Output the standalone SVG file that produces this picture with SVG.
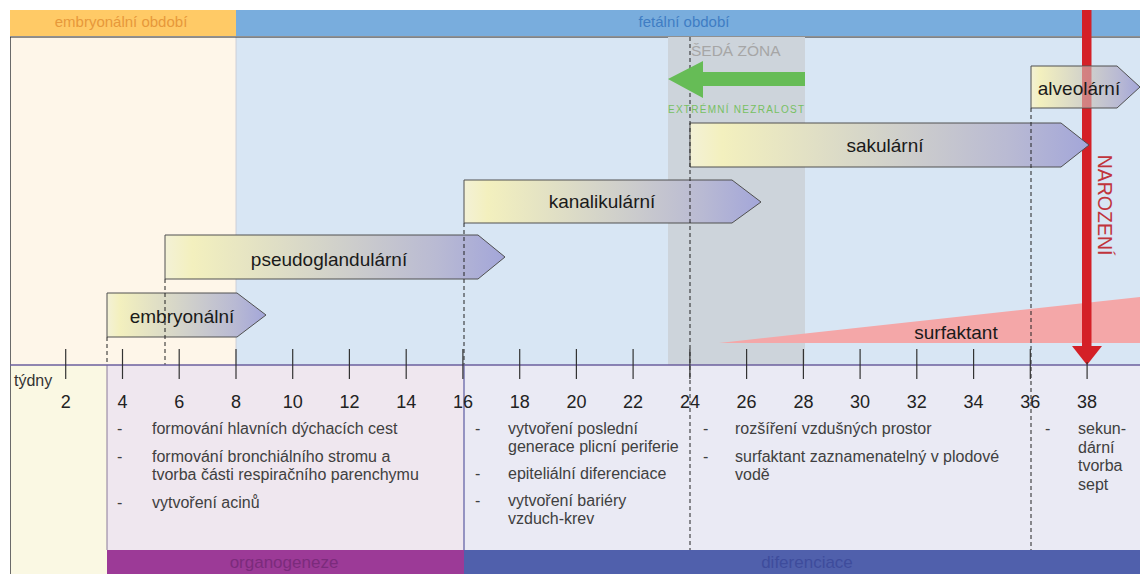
<svg xmlns="http://www.w3.org/2000/svg" width="1140" height="574" viewBox="0 0 1140 574">
<defs>
<linearGradient id="boxgrad" x1="0" y1="0" x2="1" y2="0">
<stop offset="0" stop-color="#F3F1D6"/>
<stop offset="0.08" stop-color="#F3F0BE"/>
<stop offset="0.45" stop-color="#D5D5C9"/>
<stop offset="0.8" stop-color="#B9BAD3"/>
<stop offset="1" stop-color="#A3A6D9"/>
</linearGradient>
<style>
text{font-family:"Liberation Sans",Arial,sans-serif;}
.box{fill:url(#boxgrad);stroke:#505050;stroke-width:1;}
.blabel{font-size:19px;fill:#1a1a1a;text-anchor:middle;}
.guide{stroke:#222;stroke-width:1;stroke-dasharray:4,3;fill:none;}
.tick{stroke:#333;stroke-width:1.2;}
.num{font-size:18px;fill:#222;text-anchor:middle;}
.body{font-size:16px;fill:#404040;}
</style>
</defs>

<!-- backgrounds -->
<g id="background">
<rect x="0" y="0" width="1140" height="574" fill="#ffffff"/>
<rect x="10" y="37" width="226" height="328" fill="#FEF6E9"/>
<rect x="236" y="37" width="904" height="328" fill="#D8E6F4"/>
<rect x="10" y="365" width="97" height="209" fill="#FAF8E3"/>
<rect x="107" y="365" width="357" height="185" fill="#EFE7EF"/>
<rect x="464" y="365" width="676" height="185" fill="#EAEAF4"/>
<line x1="236" y1="37" x2="236" y2="365" stroke="#c8c8d0" stroke-width="0.8"/>
<line x1="10.5" y1="37" x2="10.5" y2="574" stroke="#6a6a6a" stroke-width="1"/>
</g>

<g id="period-embryonal">
<rect x="10" y="10" width="226" height="26" fill="#FFCA66"/>
<text x="121" y="27" font-size="15" fill="#E7983A" text-anchor="middle">embryonální období</text>
</g>
<g id="period-fetal">
<rect x="236" y="10" width="904" height="26" fill="#79ADDD"/>
<text x="684" y="27" font-size="15" fill="#3F7DC4" text-anchor="middle">fetální období</text>
</g>
<line x1="10" y1="37" x2="1140" y2="37" stroke="#222" stroke-width="1.2"/>

<g id="grey-zone">
<rect x="668" y="37" width="137" height="328" fill="#CDD4DB"/>
<text x="691" y="56" font-size="15.5" fill="#A6A6A6">ŠEDÁ ZÓNA</text>
</g>

<g id="surfaktant">
<polygon points="719,343 1140,297 1140,343" fill="#F4A7A8"/>
<text x="956" y="339" class="blabel" fill="#1a1a1a">surfaktant</text>
</g>

<g id="birth-shaft">
<rect x="1082" y="10" width="9.5" height="337" fill="#D42027"/>
<polygon points="1072,346 1102,346 1087,365" fill="#D42027"/>
</g>

<g id="embryonalni">
<path class="box" d="M107,293 H237 L266,315 L237,337 H107 Z"/>
<text x="182" y="323" class="blabel">embryonální</text>
</g>
<g id="pseudoglandularni">
<path class="box" d="M165,235 H478 L505,257 L478,279 H165 Z"/>
<text x="329" y="266" class="blabel">pseudoglandulární</text>
</g>
<g id="kanalikularni">
<path class="box" d="M464,180 H732 L761,202 L732,223 H464 Z"/>
<text x="602" y="208" class="blabel">kanalikulární</text>
</g>
<g id="sakularni">
<path class="box" d="M690,123 H1061 L1089,145 L1061,167 H690 Z"/>
<text x="885" y="152" class="blabel">sakulární</text>
</g>
<g id="alveolarni">
<path class="box" d="M1031,66 H1117 L1140,87 L1117,108 H1031 Z"/>
<rect x="1082" y="66.5" width="9.5" height="41" fill="#D42027" opacity="0.45"/>
<text x="1079" y="95" class="blabel">alveolární</text>
</g>

<g id="connectors">
<line class="guide" x1="107" y1="337" x2="107" y2="365"/>
<line class="guide" x1="165" y1="279" x2="165" y2="365"/>
<line class="guide" x1="464" y1="223" x2="464" y2="365"/>
<line class="guide" x1="690" y1="37" x2="690" y2="550"/>
<line class="guide" x1="1031" y1="108" x2="1031" y2="550"/>
<line x1="107" y1="365" x2="107" y2="550" stroke="#8a7a9a" stroke-width="1"/>
<line x1="464" y1="365" x2="464" y2="550" stroke="#5a5aa0" stroke-width="1.2"/>
</g>

<g id="immaturity-arrow">
<polygon points="668,79 703,61 703,72 805,72 805,86 703,86 703,98" fill="#66BC56"/>
<text x="668" y="113" font-size="10" fill="#77C062" textLength="136" lengthAdjust="spacing">EXTRÉMNÍ NEZRALOST</text>
</g>

<g id="axis">
<line x1="10" y1="365" x2="1140" y2="365" stroke="#6b5f9e" stroke-width="1.5"/>
<g class="tick">
<line x1="65.7" y1="349" x2="65.7" y2="379"/>
<line x1="122.5" y1="349" x2="122.5" y2="379"/>
<line x1="179.2" y1="349" x2="179.2" y2="379"/>
<line x1="236" y1="349" x2="236" y2="379"/>
<line x1="292.7" y1="349" x2="292.7" y2="379"/>
<line x1="349.4" y1="349" x2="349.4" y2="379"/>
<line x1="406.2" y1="349" x2="406.2" y2="379"/>
<line x1="462.9" y1="349" x2="462.9" y2="379"/>
<line x1="519.7" y1="349" x2="519.7" y2="379"/>
<line x1="576.4" y1="349" x2="576.4" y2="379"/>
<line x1="633.1" y1="349" x2="633.1" y2="379"/>
<line x1="689.9" y1="349" x2="689.9" y2="379"/>
<line x1="746.6" y1="349" x2="746.6" y2="379"/>
<line x1="803.4" y1="349" x2="803.4" y2="379"/>
<line x1="860.1" y1="349" x2="860.1" y2="379"/>
<line x1="916.8" y1="349" x2="916.8" y2="379"/>
<line x1="973.6" y1="349" x2="973.6" y2="379"/>
<line x1="1030.3" y1="349" x2="1030.3" y2="379"/>
<line x1="1087.1" y1="362" x2="1087.1" y2="379"/>
</g>
<text x="14" y="386" font-size="16" fill="#333">týdny</text>
<text class="num" x="65.7" y="408">2</text>
<text class="num" x="122.5" y="408">4</text>
<text class="num" x="179.2" y="408">6</text>
<text class="num" x="236" y="408">8</text>
<text class="num" x="292.7" y="408">10</text>
<text class="num" x="349.4" y="408">12</text>
<text class="num" x="406.2" y="408">14</text>
<text class="num" x="462.9" y="408">16</text>
<text class="num" x="519.7" y="408">18</text>
<text class="num" x="576.4" y="408">20</text>
<text class="num" x="633.1" y="408">22</text>
<text class="num" x="689.9" y="408">24</text>
<text class="num" x="746.6" y="408">26</text>
<text class="num" x="803.4" y="408">28</text>
<text class="num" x="860.1" y="408">30</text>
<text class="num" x="916.8" y="408">32</text>
<text class="num" x="973.6" y="408">34</text>
<text class="num" x="1030.3" y="408">36</text>
<text class="num" x="1087.1" y="408">38</text>
</g>

<g id="notes-organogeneze" class="body">
<text class="body" x="117" y="434">-</text>
<text class="body" x="152" y="434">formování hlavních dýchacích cest</text>
<text class="body" x="117" y="462">-</text>
<text class="body" x="152" y="462">formování bronchiálního stromu a</text>
<text class="body" x="152" y="480">tvorba části respiračního parenchymu</text>
<text class="body" x="117" y="508">-</text>
<text class="body" x="152" y="508">vytvoření acinů</text>
</g>
<g id="notes-kanalikularni">
<text class="body" x="475" y="434">-</text>
<text class="body" x="508" y="434">vytvoření poslední</text>
<text class="body" x="508" y="452">generace plicní periferie</text>
<text class="body" x="475" y="479">-</text>
<text class="body" x="508" y="479">epiteliální diferenciace</text>
<text class="body" x="475" y="506">-</text>
<text class="body" x="508" y="506">vytvoření bariéry</text>
<text class="body" x="508" y="524">vzduch-krev</text>
</g>
<g id="notes-sakularni">
<text class="body" x="703" y="434">-</text>
<text class="body" x="735" y="434">rozšíření vzdušných prostor</text>
<text class="body" x="703" y="462">-</text>
<text class="body" x="735" y="462">surfaktant zaznamenatelný v plodové</text>
<text class="body" x="735" y="480">vodě</text>
</g>
<g id="notes-alveolarni">
<text class="body" x="1045" y="434">-</text>
<text class="body" x="1078" y="434">sekun-</text>
<text class="body" x="1078" y="452.5">dární</text>
<text class="body" x="1078" y="471">tvorba</text>
<text class="body" x="1078" y="489.5">sept</text>
</g>

<g id="organogeneze">
<rect x="107" y="550" width="357" height="24" fill="#9C3A97"/>
<text x="284" y="568" font-size="17" fill="#7B2B7C" text-anchor="middle">organogeneze</text>
</g>
<g id="diferenciace">
<rect x="464" y="550" width="676" height="24" fill="#5060AC"/>
<text x="807" y="568" font-size="17" fill="#3E4C9C" text-anchor="middle">diferenciace</text>
</g>

<g id="narozeni">
<text transform="translate(1098,205) rotate(90)" font-size="19.5" fill="#C0343C" text-anchor="middle">NAROZENÍ</text>
</g>
</svg>
